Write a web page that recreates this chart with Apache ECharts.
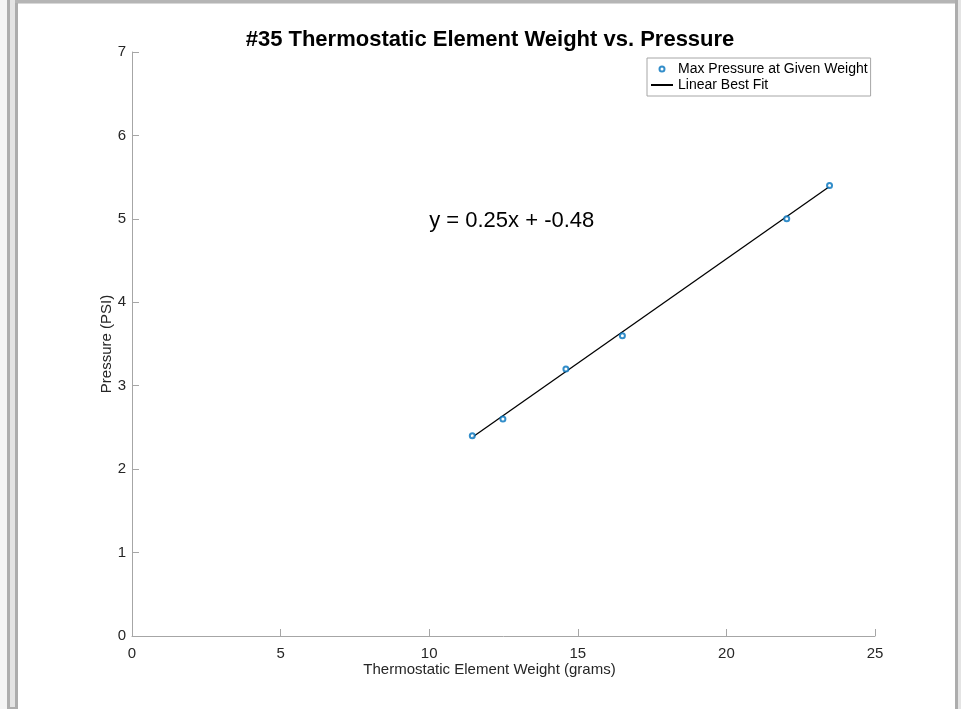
<!DOCTYPE html>
<html>
<head>
<meta charset="utf-8">
<script src="https://cdn.jsdelivr.net/npm/echarts@6/dist/echarts.min.js"></script>
<style>
  html, body { margin: 0; padding: 0; background: #ffffff; }
  #chart { width: 961px; height: 709px; }
</style>
</head>
<body>
<div id="chart"></div>
<script>
// Measured element weights (grams) and the max pressure reached (PSI)
const weights = [11.45, 12.48, 14.6, 16.5, 22.03, 23.47];
const pressures = [2.4, 2.6, 3.2, 3.6, 5.0, 5.4];

// Linear best fit, as printed on the chart
const fitSlope = 0.25;
const fitIntercept = -0.48;
const fitLabel = 'y = 0.25x + -0.48';
const fitLabelAt = [10, 5];

// Axis ranges
const xRange = { min: 0, max: 25, step: 5 };
const yRange = { min: 0, max: 7, step: 1 };

const FONT = '"Liberation Sans", Arial, Helvetica, sans-serif';
const AXIS_GRAY = '#a6a6a6';
const TEXT_DARK = '#262626';
const MARKER_BLUE = '#0072BD';

const points = weights.map((w, i) => [w, pressures[i]]);
const xLo = Math.min(...weights);
const xHi = Math.max(...weights);
const fitLine = [xLo, xHi].map(x => [x, fitSlope * x + fitIntercept]);

const chart = echarts.init(document.getElementById('chart'), null, { renderer: 'canvas' });

const axisCommon = {
  type: 'value',
  axisLine: { show: true, lineStyle: { color: AXIS_GRAY, width: 1 } },
  axisTick: { show: true, inside: true, length: 7, lineStyle: { color: AXIS_GRAY, width: 1 } },
  splitLine: { show: false },
  axisLabel: { color: TEXT_DARK, fontFamily: FONT, fontSize: 15 }
};

chart.setOption({
  animation: false,
  backgroundColor: '#ffffff',
  textStyle: { fontFamily: FONT },
  title: {
    text: '#35 Thermostatic Element Weight vs. Pressure',
    left: 485,
    top: 24,
    textAlign: 'center',
    textStyle: { fontFamily: FONT, fontSize: 22, fontWeight: 'bold', color: '#000000' }
  },
  legend: {
    orient: 'vertical',
    left: 647,
    top: 58,
    padding: [3, 3, 3, 3],
    itemGap: 0,
    itemWidth: 22,
    itemHeight: 5,
    borderColor: '#a6a6a6',
    borderWidth: 1,
    backgroundColor: '#ffffff',
    textStyle: { fontFamily: FONT, fontSize: 14, color: '#000000', lineHeight: 16 },
    data: [
      { name: 'Max Pressure at Given Weight' },
      { name: 'Linear Best Fit', itemStyle: { opacity: 0 } }
    ]
  },
  grid: { left: 132, right: 86, top: 52, bottom: 73, containLabel: false },
  xAxis: Object.assign({}, axisCommon, {
    min: xRange.min, max: xRange.max, interval: xRange.step,
    axisLabel: Object.assign({}, axisCommon.axisLabel, { margin: 10 }),
    name: 'Thermostatic Element Weight (grams)',
    nameLocation: 'middle',
    nameGap: 26,
    nameMoveOverlap: false,
    nameTextStyle: { fontFamily: FONT, fontSize: 15, color: TEXT_DARK, padding: [0, 28, 0, 0] }
  }),
  yAxis: Object.assign({}, axisCommon, {
    min: yRange.min, max: yRange.max, interval: yRange.step,
    axisLabel: Object.assign({}, axisCommon.axisLabel, { margin: 6 }),
    name: 'Pressure (PSI)',
    nameLocation: 'middle',
    nameGap: 18,
    nameMoveOverlap: false,
    nameTextStyle: { fontFamily: FONT, fontSize: 15, color: TEXT_DARK }
  }),
  series: [
    {
      name: 'Max Pressure at Given Weight',
      type: 'scatter',
      data: points,
      symbol: 'emptyCircle',
      symbolSize: 5,
      itemStyle: { color: MARKER_BLUE, borderColor: MARKER_BLUE, borderWidth: 1.3 },
      z: 3
    },
    {
      name: 'Linear Best Fit',
      type: 'line',
      data: fitLine,
      showSymbol: false,
      symbol: 'none',
      lineStyle: { color: '#000000', width: 1.3 },
      itemStyle: { color: '#000000' },
      z: 2
    },
    {
      name: 'fit-equation',
      type: 'scatter',
      data: [fitLabelAt],
      symbolSize: 0,
      silent: true,
      label: {
        show: true,
        position: 'inside',
        align: 'left',
        verticalAlign: 'middle',
        offset: [0, 2],
        formatter: fitLabel,
        fontFamily: FONT,
        fontSize: 22,
        color: '#000000',
        textBorderWidth: 0,
        opacity: 1
      }
    }
  ],
  graphic: [
    // window frame around the figure
    { type: 'rect', shape: { x: 0, y: 0, width: 7, height: 709 }, style: { fill: '#f4f4f4' }, z: 100 },
    { type: 'rect', shape: { x: 7, y: 0, width: 3, height: 709 }, style: { fill: '#adadad' }, z: 100 },
    { type: 'rect', shape: { x: 10, y: 0, width: 5, height: 709 }, style: { fill: '#e4e4e4' }, z: 100 },
    { type: 'rect', shape: { x: 15, y: 0, width: 3, height: 709 }, style: { fill: '#adadad' }, z: 100 },
    { type: 'rect', shape: { x: 15, y: 0, width: 946, height: 3 }, style: { fill: '#b5b5b5' }, z: 100 },
    { type: 'rect', shape: { x: 18, y: 3, width: 937, height: 1 }, style: { fill: '#d8d8d8' }, z: 100 },
    { type: 'rect', shape: { x: 955, y: 0, width: 3, height: 709 }, style: { fill: '#adadad' }, z: 100 },
    { type: 'rect', shape: { x: 958, y: 0, width: 3, height: 709 }, style: { fill: '#e4e4e4' }, z: 100 },
    { type: 'rect', shape: { x: 10, y: 707, width: 5, height: 2 }, style: { fill: '#adadad' }, z: 100 }
  ]
});
</script>
</body>
</html>
